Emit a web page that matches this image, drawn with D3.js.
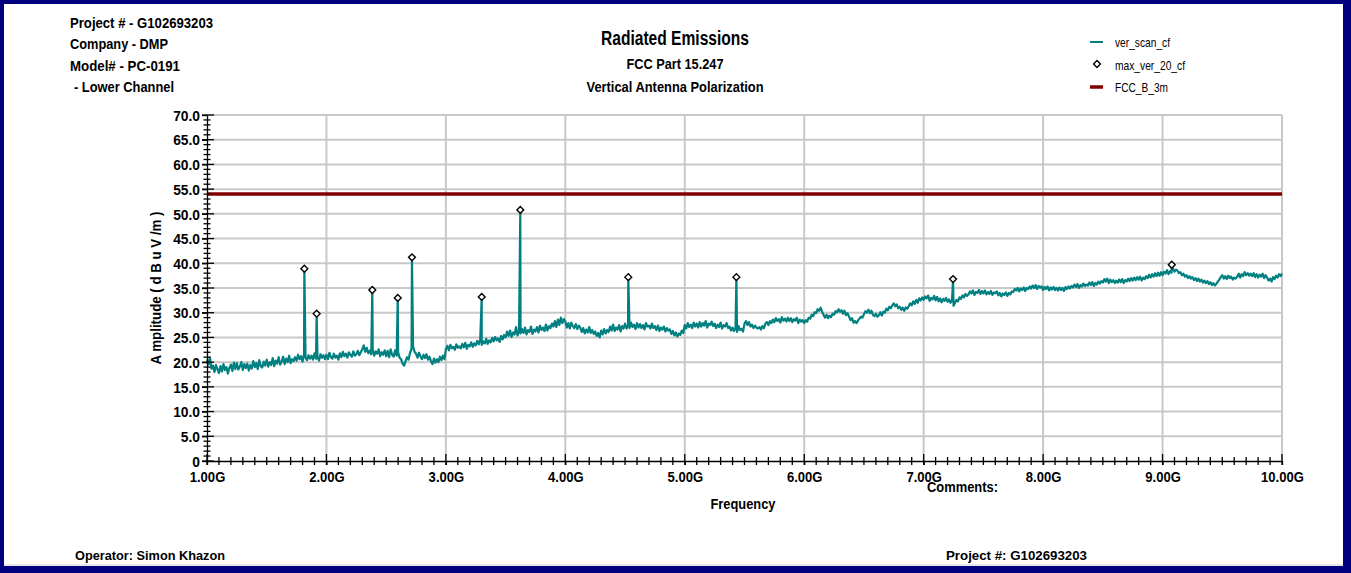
<!DOCTYPE html>
<meta charset="utf-8">
<style>
html, body {
  margin: 0;
  padding: 0;
  background: #fff;
}
svg text {
  font-family: "Liberation Sans Narrow", "Arial Narrow", "Liberation Sans", Arial, sans-serif;
  font-weight: bold;
  fill: #000;
}
.grid line {
  stroke: #c8c8c8;
  stroke-width: 2;
}
.axis path, .axis line, .tick-x, .tick-y {
  stroke: #000;
  stroke-width: 1.3;
}
</style>
<body>
<script src="https://cdn.jsdelivr.net/npm/d3@7"></script>
<script>

var width = 1351,
    height = 573;

// scan start, step (GHz) and amplitudes (dBuV/m)
var scanStart = 1.0,
    scanStep = 0.0125;
var scanValues = [
  20.6, 19.5, 20.9, 18.7, 19.3, 18.0, 19.4, 18.6, 17.8, 19.2,
  18.1, 19.6, 18.4, 19.0, 17.7, 18.8, 19.5, 18.2, 19.9, 18.6,
  19.8, 18.5, 19.1, 20.0, 18.4, 19.6, 18.8, 19.7, 18.3, 19.4,
  18.7, 20.2, 19.0, 19.8, 18.6, 20.4, 19.2, 18.9, 20.1, 19.3,
  20.5, 19.1, 20.0, 19.4, 20.8, 19.2, 20.3, 19.7, 21.0, 19.5,
  20.1, 21.1, 19.6, 20.7, 20.0, 21.3, 19.8, 20.6, 20.2, 21.0,
  20.3, 21.5, 20.6, 21.2, 20.1, 21.6, 20.9, 20.4, 21.4, 20.7,
  21.3, 20.5, 21.8, 20.7, 21.1, 20.3, 21.6, 20.9, 21.4, 20.6,
  21.5, 20.6, 21.9, 21.0, 20.7, 21.7, 20.9, 21.3, 20.5, 21.8,
  21.0, 22.1, 21.2, 21.7, 20.9, 22.0, 21.5, 21.1, 22.2, 21.3,
  21.6, 22.3, 21.4, 22.0, 22.6, 23.4, 22.1, 22.9, 21.8, 22.3,
  21.6, 22.5, 21.3, 22.2, 21.7, 22.6, 21.2, 22.0, 21.5, 22.4,
  21.2, 22.3, 21.0, 22.6, 21.5, 21.1, 22.4, 21.3, 22.0, 20.9,
  20.6, 19.7, 19.3, 20.2, 21.0, 20.5, 21.9, 22.7, 23.2, 22.1,
  21.7, 20.9, 21.9, 21.2, 20.6, 21.5, 20.8, 21.6, 20.5, 21.1,
  20.2, 19.6, 20.7, 19.9, 20.6, 20.0, 21.1, 20.4, 21.3, 20.6,
  22.6, 23.3, 22.4, 23.5, 22.8, 23.1, 22.5, 23.6, 22.9, 23.2,
  22.8, 23.7, 23.0, 23.9, 22.7, 23.5, 23.2, 24.0, 23.1, 23.8,
  23.4, 24.3, 23.6, 24.6, 23.5, 24.2, 23.8, 24.7, 23.7, 24.4,
  24.0, 24.9, 24.2, 25.1, 24.4, 24.8, 24.1, 25.3, 24.6, 25.5,
  25.0, 26.2, 25.3, 26.4, 25.1, 26.0, 25.6, 27.1, 25.4, 26.3,
  25.8, 26.7, 25.9, 27.0, 25.6, 26.5, 26.1, 27.2, 25.7, 26.6,
  26.2, 27.1, 26.0, 27.4, 26.5, 27.0, 26.3, 27.6, 26.4, 27.3,
  26.9, 27.8, 27.2, 28.3, 27.1, 28.6, 27.5, 29.0, 27.9, 28.7,
  28.2, 27.0, 27.9, 26.8, 28.0, 27.3, 26.9, 27.7, 26.7, 27.4,
  27.0, 26.1, 26.9, 25.8, 26.6, 26.0, 27.1, 25.9, 26.5, 25.7,
  26.2, 25.3, 25.9, 25.0, 26.4, 25.6, 26.7, 25.8, 26.5, 26.1,
  27.2, 26.4, 27.6, 26.3, 27.0, 26.6, 27.5, 26.2, 27.3, 26.8,
  27.8, 26.8, 27.5, 26.9, 28.0, 27.1, 27.6, 26.7, 27.9, 27.0,
  27.7, 26.9, 27.5, 26.6, 27.9, 27.2, 27.4, 26.8, 27.8, 26.9,
  27.3, 26.5, 27.4, 26.3, 27.0, 26.6, 27.2, 26.2, 26.9, 26.4,
  26.6, 25.7, 26.3, 25.4, 26.0, 25.2, 25.8, 25.5, 26.4, 25.9,
  27.5, 26.8, 27.9, 27.1, 27.6, 26.9, 28.0, 27.2, 27.8, 27.0,
  28.1, 27.2, 27.9, 27.4, 28.3, 27.0, 27.8, 27.5, 28.2, 27.3,
  27.8, 26.9, 27.6, 27.1, 28.0, 26.8, 27.5, 27.2, 27.9, 26.9,
  27.2, 26.4, 27.0, 26.3, 26.9, 26.1, 27.3, 26.5, 26.7, 26.2,
  27.8, 28.3, 27.5, 28.1, 27.2, 27.6, 26.9, 27.4, 27.0, 26.8,
  27.1, 26.6, 27.3, 26.9, 27.8, 28.1, 27.5, 28.3, 27.9, 28.6,
  28.1, 28.9, 28.3, 28.7, 28.0, 29.1, 28.4, 28.8, 28.2, 29.0,
  28.3, 28.9, 28.1, 28.7, 28.4, 29.0, 27.9, 28.6, 28.2, 28.5,
  27.9, 28.5, 28.2, 29.0, 28.8, 29.6, 29.3, 30.1, 29.9, 30.7,
  30.4, 31.0, 30.2, 29.5, 29.0, 29.6, 28.9, 29.4, 29.1, 29.8,
  29.6, 30.3, 30.1, 30.7, 30.2, 30.5, 29.8, 30.4, 29.5, 29.9,
  29.2, 28.5, 28.9, 28.0, 28.3, 27.9, 28.4, 28.8, 29.2, 29.0,
  29.7, 30.3, 30.0, 30.6, 29.9, 30.4, 29.6, 29.3, 29.8, 29.2,
  29.5, 30.1, 29.4, 30.2, 30.0, 30.8, 30.5, 31.2, 30.9, 31.5,
  31.9, 31.3, 31.7, 30.9, 31.2, 30.6, 31.0, 30.4, 31.1, 30.8,
  31.3, 31.9, 31.5, 32.3, 31.8, 32.6, 32.0, 32.9, 32.5, 33.1,
  32.6, 33.3, 32.9, 33.5, 32.4, 33.0, 32.7, 33.4, 32.5, 33.2,
  32.3, 32.9, 32.1, 32.8, 32.4, 33.0, 32.2, 32.7, 32.0, 32.6,
  31.4, 32.0, 32.6, 32.3, 33.1, 32.8, 33.5, 33.1, 33.8, 33.4,
  33.7, 34.3, 33.9, 34.5, 33.6, 34.2, 34.0, 34.6, 33.8, 34.4,
  33.9, 34.5, 33.7, 34.2, 33.8, 34.4, 33.6, 34.1, 33.9, 34.3,
  33.5, 34.0, 33.3, 33.9, 33.6, 34.1, 33.4, 34.0, 33.7, 34.3,
  34.2, 34.8, 34.5, 35.0, 34.3, 34.9, 34.6, 35.1, 34.4, 35.0,
  34.8, 35.3, 34.9, 35.5, 35.0, 35.6, 34.8, 35.4, 35.1, 35.3,
  34.6, 35.2, 34.8, 35.3, 34.5, 35.1, 34.7, 35.2, 34.6, 35.0,
  34.5, 35.1, 34.6, 35.0, 34.4, 35.2, 34.8, 35.3, 34.9, 35.4,
  35.1, 35.7, 35.2, 35.8, 35.0, 35.6, 35.3, 35.9, 35.4, 35.7,
  35.5, 36.1, 35.6, 36.2, 35.4, 36.0, 35.7, 36.3, 35.9, 36.4,
  36.1, 36.8, 36.3, 36.9, 36.0, 36.7, 36.2, 36.6, 36.0, 36.5,
  36.1, 36.7, 36.2, 36.8, 36.0, 36.6, 36.3, 36.9, 36.4, 37.0,
  36.5, 37.1, 36.6, 37.2, 36.7, 37.3, 36.5, 37.1, 36.8, 37.4,
  37.0, 37.7, 37.1, 37.8, 37.3, 38.0, 37.4, 38.1, 37.5, 38.2,
  37.6, 38.3, 37.9, 38.6, 37.8, 38.4, 38.1, 38.9, 38.3, 38.7,
  38.5, 38.0, 38.2, 37.6, 37.9, 37.3, 37.6, 37.0, 37.4, 36.9,
  37.2, 36.6, 37.0, 36.4, 36.9, 36.3, 36.7, 36.1, 36.5, 36.0,
  36.4, 35.8, 36.2, 35.6, 36.0, 35.5, 35.8, 36.3, 36.7, 37.2,
  37.6, 36.9, 37.4, 36.8, 37.5, 37.0, 37.3, 36.7, 37.1, 36.9,
  37.3, 37.9, 37.1, 37.8, 37.4, 38.2, 37.6, 38.0, 37.5, 37.9,
  37.4, 38.0, 37.2, 37.8, 37.1, 37.7, 37.3, 37.9, 37.0, 37.6,
  37.1, 36.5, 36.9, 36.3, 37.2, 36.8, 37.5, 37.1, 37.8, 37.4,
  37.9
];

// max_ver_20_cf peaks
var peakFreqs = [1.815, 1.918, 2.384, 2.597, 2.716, 3.300, 3.623, 4.527, 5.432, 7.246, 9.077];
var peakAmps  = [38.9, 29.8, 34.6, 33.0, 41.2, 33.2, 50.8, 37.2, 37.2, 36.8, 39.7];

// FCC_B_3m limit
var limitFreqs = [1.0, 10.0];
var limitAmps  = [54.0, 54.0];

var xTicks = [1, 2, 3, 4, 5, 6, 7, 8, 9, 10];
var xTickLabels = ["1.00G", "2.00G", "3.00G", "4.00G", "5.00G", "6.00G", "7.00G", "8.00G", "9.00G", "10.00G"];
var yTicks = [0, 5, 10, 15, 20, 25, 30, 35, 40, 45, 50, 55, 60, 65, 70];
var yTickLabels = ["0", "5.0", "10.0", "15.0", "20.0", "25.0", "30.0", "35.0", "40.0", "45.0", "50.0", "55.0", "60.0", "65.0", "70.0"];

var headerLines = ["Project # - G102693203", "Company - DMP", "Model# - PC-0191", "- Lower Channel"];
var titleLines = ["Radiated Emissions", "FCC Part 15.247", "Vertical Antenna Polarization"];
var legendNames = ["ver_scan_cf", "max_ver_20_cf", "FCC_B_3m"];

var teal = "#008080",
    limitRed = "#800000",
    navy = "#00007f";

// squeeze a text to the width it has in the reference
function fit(sel, w) {
  sel.attr("textLength", w).attr("lengthAdjust", "spacingAndGlyphs");
}
function squeeze(sel, k) {
  sel.each(function() {
    d3.select(this)
      .attr("textLength", this.getComputedTextLength() * k)
      .attr("lengthAdjust", "spacingAndGlyphs");
  });
}

var svg = d3.select("body").append("svg")
    .attr("width", width)
    .attr("height", height);

// frame
svg.append("rect")
    .attr("x", 0).attr("y", 0)
    .attr("width", width).attr("height", height)
    .attr("fill", navy);
svg.append("rect")
    .attr("x", 4).attr("y", 4)
    .attr("width", width - 12).attr("height", height - 11)
    .attr("fill", "#fff");
svg.append("line")
    .attr("x1", 4).attr("x2", width - 8)
    .attr("y1", height - 8).attr("y2", height - 8)
    .attr("stroke", "#d0d0d0");

var x = d3.scaleLinear().domain([1, 10]).range([207, 1282]);
var y = d3.scaleLinear().domain([0, 70]).range([461, 115]);

// grid
var grid = svg.append("g").attr("class", "grid");
grid.selectAll(".hg")
    .data(yTicks.slice(1))
  .enter().append("line")
    .attr("x1", x(1)).attr("x2", x(10))
    .attr("y1", function(d) { return y(d); })
    .attr("y2", function(d) { return y(d); });
grid.selectAll(".vg")
    .data(xTicks.slice(1))
  .enter().append("line")
    .attr("x1", function(d) { return x(d); })
    .attr("x2", function(d) { return x(d); })
    .attr("y1", y(0)).attr("y2", y(70));

// limit line
svg.append("line")
    .attr("x1", x(limitFreqs[0])).attr("x2", x(limitFreqs[1]))
    .attr("y1", y(limitAmps[0])).attr("y2", y(limitAmps[1]))
    .attr("stroke", limitRed)
    .attr("stroke-width", 3.5);

// scan trace, with the peaks merged in at their frequencies
var scan = scanValues.map(function(v, i) { return [scanStart + i * scanStep, v]; });
peakFreqs.forEach(function(f, i) { scan.push([f, peakAmps[i]]); });
scan.sort(function(a, b) { return a[0] - b[0]; });

var line = d3.line()
    .x(function(d) { return x(d[0]); })
    .y(function(d) { return y(d[1]); });

svg.append("path")
    .datum(scan)
    .attr("d", line)
    .attr("fill", "none")
    .attr("stroke", teal)
    .attr("stroke-width", 2.2)
    .attr("stroke-linejoin", "round");

// peak markers
var diamond = d3.symbol().type(d3.symbolDiamond2).size(30);
svg.selectAll(".peak")
    .data(peakFreqs)
  .enter().append("path")
    .attr("class", "peak")
    .attr("d", diamond)
    .attr("transform", function(d, i) { return "translate(" + x(d) + "," + y(peakAmps[i]) + ")"; })
    .attr("fill", "#fff")
    .attr("stroke", "#000")
    .attr("stroke-width", 1.4);

// y axis
var yAxis = d3.axisLeft(y)
    .tickValues(yTicks)
    .tickFormat(function(d, i) { return yTickLabels[i]; })
    .tickSizeInner(5)
    .tickSizeOuter(0)
    .tickPadding(2);
var gy = svg.append("g")
    .attr("class", "axis")
    .attr("transform", "translate(" + x(1) + ",0)")
    .call(yAxis);
gy.selectAll("text").style("font-size", "15px").attr("dy", "0.35em").call(squeeze, 0.92);

svg.selectAll(".tick-y")
    .data(d3.range(0, 71, 1))
  .enter().append("line")
    .attr("class", "tick-y")
    .attr("x1", function(d) { return x(1) - (d % 5 ? 3.5 : 5); })
    .attr("x2", function(d) { return x(1) + (d % 5 ? 3.5 : 7); })
    .attr("y1", function(d) { return y(d); })
    .attr("y2", function(d) { return y(d); });

// x axis
var xAxis = d3.axisBottom(x)
    .tickValues(xTicks)
    .tickFormat(function(d, i) { return xTickLabels[i]; })
    .tickSizeInner(4)
    .tickSizeOuter(0)
    .tickPadding(6);
var gx = svg.append("g")
    .attr("class", "axis")
    .attr("transform", "translate(0," + y(0) + ")")
    .call(xAxis);
gx.selectAll("text").style("font-size", "15px").call(squeeze, 0.87);

svg.selectAll(".tick-x")
    .data(d3.range(10, 101, 1))
  .enter().append("line")
    .attr("class", "tick-x")
    .attr("x1", function(d) { return x(d / 10); })
    .attr("x2", function(d) { return x(d / 10); })
    .attr("y1", function(d) { return y(0) - (d % 10 ? 4 : 7); })
    .attr("y2", function(d) { return y(0) + 4; });

// axis titles
svg.append("text")
    .attr("x", 743).attr("y", 509)
    .attr("text-anchor", "middle")
    .style("font-size", "15px")
    .text("Frequency")
    .call(fit, 65);

svg.append("text")
    .attr("transform", "translate(161,288) rotate(-90)")
    .attr("text-anchor", "middle")
    .style("font-size", "15px")
    .text("A mplitude ( d B u V /m )")
    .call(fit, 153);

svg.append("text")
    .attr("x", 927).attr("y", 492)
    .style("font-size", "15px")
    .text("Comments:")
    .call(fit, 71);

// header
var headerWidths = [143, 98, 110, 100];
svg.selectAll(".header")
    .data(headerLines)
  .enter().append("text")
    .attr("x", function(d, i) { return i === 3 ? 74 : 70; })
    .attr("y", function(d, i) { return 28 + i * 21.3; })
    .style("font-size", "14px")
    .text(function(d) { return d; })
    .each(function(d, i) { d3.select(this).call(fit, headerWidths[i]); });

// title
var titleWidths = [148, 97, 177];
svg.selectAll(".title")
    .data(titleLines)
  .enter().append("text")
    .attr("x", 675)
    .attr("y", function(d, i) { return [45, 69, 92][i]; })
    .attr("text-anchor", "middle")
    .style("font-size", function(d, i) { return i ? "14px" : "20px"; })
    .text(function(d) { return d; })
    .each(function(d, i) { d3.select(this).call(fit, titleWidths[i]); });

// legend
var legend = svg.append("g").attr("transform", "translate(1090,0)");
legend.append("line")
    .attr("x1", 0).attr("x2", 13).attr("y1", 42).attr("y2", 42)
    .attr("stroke", teal).attr("stroke-width", 2);
legend.append("path")
    .attr("d", diamond)
    .attr("transform", "translate(7,64)")
    .attr("fill", "#fff").attr("stroke", "#000").attr("stroke-width", 1.4);
legend.append("line")
    .attr("x1", 0).attr("x2", 13).attr("y1", 87).attr("y2", 87)
    .attr("stroke", limitRed).attr("stroke-width", 3.5);
var legendWidths = [55, 70, 53];
legend.selectAll(".lg")
    .data(legendNames)
  .enter().append("text")
    .attr("x", 25)
    .attr("y", function(d, i) { return 47 + i * 22.5; })
    .style("font-size", "13px")
    .style("font-weight", "normal")
    .text(function(d) { return d; })
    .each(function(d, i) { d3.select(this).call(fit, legendWidths[i]); });

// footer
svg.append("text")
    .attr("x", 75).attr("y", 560)
    .style("font-size", "13px")
    .text("Operator: Simon Khazon")
    .call(fit, 150);
svg.append("text")
    .attr("x", 946).attr("y", 560)
    .style("font-size", "13px")
    .text("Project #: G102693203")
    .call(fit, 141);

</script>
